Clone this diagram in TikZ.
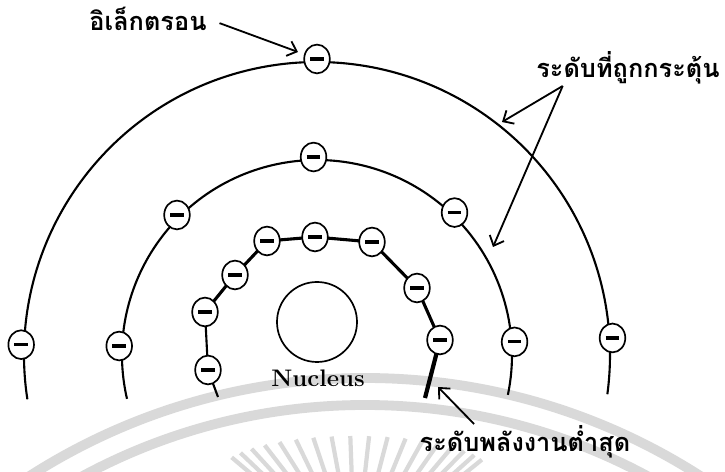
\documentclass[tikz,border=0pt]{standalone}
\usepackage{fontspec}
\newfontfamily\thaifont[Script=Thai]{Loma}
\usetikzlibrary{arrows.meta, shapes.geometric, calc}

\begin{document}
\begin{tikzpicture}[x=0.025cm, y=0.025cm,
    el/.style={ellipse, draw, fill=white, inner sep=0pt, line width=1.2pt,
               minimum width=0.64cm, minimum height=0.72cm,
               path picture={\draw[line width=2.2pt]
                 ([xshift=-0.17cm]path picture bounding box.center) --
                 ([xshift=0.17cm]path picture bounding box.center);}},
    orb/.style={line width=1.5pt},
    inorb/.style={line width=2.2pt},
    thl/.style={font=\thaifont\bfseries\fontsize{18}{20}\selectfont, inner sep=1pt},
    arr/.style={line width=1.3pt, -{Straight Barb[length=6pt, width=11pt]}},
    wm/.style={black!15, line width=7pt}
  ]
  \useasboundingbox (0,0) rectangle (725,472);
  % -- watermark --
  \begin{scope}
    \clip (0,0) rectangle (725,472);
    \coordinate (wc) at (365,-528);
    \draw[wm] (wc) circle[radius=622];
    \draw[wm] (wc) circle[radius=595];
    \coordinate (rc) at (355,-90);
    \foreach \a in {20,28,...,160}{
      \coordinate (rt) at ($(355,0)+(\a:135 and 36)$);
      \draw[black!15, line width=3pt] (rt) -- ($(rt)!1.3cm!(rc)$);
    }
  \end{scope}
  % -- orbits --
  \coordinate (c) at (317,117);
  \draw[orb] ($(c)+(188.7:293)$) arc[start angle=188.7, end angle=-7.7, radius=293];
  \draw[orb] ($(c)+(193:195)$) arc[start angle=193, end angle=-11.8, radius=195];
  % -- nucleus --
  \node[circle, draw, line width=1.2pt, minimum size=2cm] (nuc) at (317,150) {};
  \node[font=\bfseries\fontsize{17}{19}\selectfont] (nucl) at (318,94) {Nucleus};
  % -- electrons --
  \foreach \a [count=\i] in {178,90,3.3}{ \node[el] (o\i) at ($(c)+(\a:296)$) {}; }
  \foreach \a [count=\i] in {177.4,135,91,46,3.8}{ \node[el] (m\i) at ($(c)+(\a:198)$) {}; }
  \foreach \x/\y [count=\i] in {208/102,205/160,235/197,267/231,315/235,372/230,417/184,440/132}{
    \coordinate (i\i) at (\x,\y);
  }
  \coordinate (iL) at (218,75);
  \coordinate (iR) at (425,74);
  \draw[orb] (iL) -- (i1) -- (i2);
  \draw[inorb] (i2) -- (i3) -- (i4) -- (i5) -- (i6) -- (i7) -- (i8);
  \draw[line width=3pt] (i8) -- (iR);
  \foreach \i in {1,...,8}{ \node[el] (ie\i) at (i\i) {}; }
  % -- labels --
  \node[thl] (lblE) at (148,453) {อิเล็กตรอน};
  \node[thl] (lblX) at (628,404) {ระดับที่ถูกกระตุ้น};
  \node[thl] (lblL) at (525,30) {ระดับพลังงานต่ำสุด};
  % -- arrows --
  \coordinate (eTip) at (298,420);
  \coordinate (xTipA) at (502,350);
  \coordinate (xTipB) at (493,225);
  \coordinate (lTip) at (438,85);
  \draw[arr, shorten <=0.3cm] (lblE.east) -- (eTip);
  \draw[arr] ([xshift=0.7cm]lblX.south west) -- (xTipA);
  \draw[arr] ([xshift=0.7cm]lblX.south west) -- (xTipB);
  \draw[arr] ([xshift=1.4cm]lblL.north west) -- (lTip);
\end{tikzpicture}
\end{document}
